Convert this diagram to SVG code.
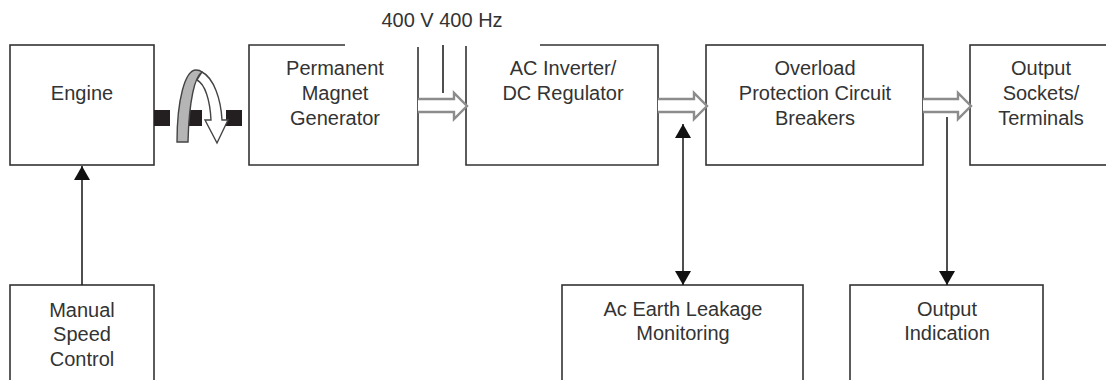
<svg xmlns="http://www.w3.org/2000/svg" width="1106" height="380" viewBox="0 0 1106 380">
<defs>
<style>
.box{fill:#fff;stroke:#333;stroke-width:1.6}
.edge{fill:none;stroke:#333;stroke-width:1.6}
.t{font-family:"Liberation Sans",Arial,sans-serif;font-size:20px;fill:#333;text-anchor:middle}
.hollow{fill:#fff;stroke:#8c8c8c;stroke-width:2.4;stroke-linejoin:miter}
.line{fill:none;stroke:#222;stroke-width:1.6}
.sq{fill:#231f20}
</style>
<marker id="ah" viewBox="0 0 14 16" refX="14" refY="8" markerWidth="14" markerHeight="16" markerUnits="userSpaceOnUse" orient="auto-start-reverse">
<path d="M0,0 L14,8 L0,16 Z" fill="#111"/>
</marker>
</defs>
<rect width="1106" height="380" fill="#fff"/>

<g id="engine">
<rect class="box" x="10" y="45" width="144" height="120"/>
<text class="t" x="82" y="100">Engine</text>
</g>

<g id="coupling">
<rect class="sq" x="154" y="110" width="16" height="16"/>
<rect class="sq" x="186" y="110" width="16" height="16"/>
<rect class="sq" x="226" y="110" width="16" height="16"/>
<path d="M202,72 C214,78 221,100 222,120 L228,120 L217,143 L205,120 L211,120 C210,100 205,84 197,80 Z" fill="#fff" stroke="#444" stroke-width="1.4" stroke-linejoin="miter"/>
<path d="M177,142 C177,100 185,70 196,70 C199,70 201,71 202,72 C195,76 189,100 188,142 Z" fill="#b5b5b5" stroke="#444" stroke-width="1.4"/>
</g>

<g id="pmg">
<path class="edge" d="M345,45 L249,45 L249,165 L418,165 L418,47"/>
<text class="t" x="335" y="75">Permanent</text>
<text class="t" x="335" y="100">Magnet</text>
<text class="t" x="335" y="125">Generator</text>
</g>

<g id="label-400">
<text class="t" x="442" y="27">400 V 400 Hz</text>
</g>

<g id="ac-inverter">
<path class="edge" d="M540,45 L658,45 L658,165 L466,165 L466,46"/>
<text class="t" x="563" y="75">AC Inverter/</text>
<text class="t" x="563" y="100">DC Regulator</text>
</g>

<g id="overload">
<rect class="box" x="706" y="45" width="217" height="120"/>
<text class="t" x="815" y="75">Overload</text>
<text class="t" x="815" y="100">Protection Circuit</text>
<text class="t" x="815" y="125">Breakers</text>
</g>

<g id="output-sockets">
<rect class="box" x="970" y="45" width="160" height="120"/>
<text class="t" x="1041" y="75">Output</text>
<text class="t" x="1041" y="100">Sockets/</text>
<text class="t" x="1041" y="125">Terminals</text>
</g>

<g id="manual-speed">
<rect class="box" x="10" y="285" width="144" height="120"/>
<text class="t" x="82" y="317">Manual</text>
<text class="t" x="82" y="341">Speed</text>
<text class="t" x="82" y="366">Control</text>
</g>

<g id="earth-leakage">
<rect class="box" x="562" y="285" width="241" height="120"/>
<text class="t" x="683" y="316">Ac Earth Leakage</text>
<text class="t" x="683" y="340">Monitoring</text>
</g>

<g id="output-indication">
<rect class="box" x="850" y="285" width="193" height="120"/>
<text class="t" x="947" y="316">Output</text>
<text class="t" x="947" y="340">Indication</text>
</g>

<g id="connectors">
<line class="line" x1="443" y1="45" x2="443" y2="93"/>
<path class="hollow" d="M418,99 L454,99 L454,93 L467,106 L454,119 L454,112 L418,112"/>
<path class="hollow" d="M658,99 L694,99 L694,93 L707,106 L694,119 L694,112 L658,112"/>
<path class="hollow" d="M923,99 L958,99 L958,93 L971,106 L958,119 L958,112 L923,112"/>
<line class="line" x1="82" y1="285" x2="82" y2="166" marker-end="url(#ah)"/>
<line class="line" x1="683" y1="124" x2="683" y2="285" marker-start="url(#ah)" marker-end="url(#ah)"/>
<line class="line" x1="947" y1="117" x2="947" y2="285" marker-end="url(#ah)"/>
</g>
</svg>
